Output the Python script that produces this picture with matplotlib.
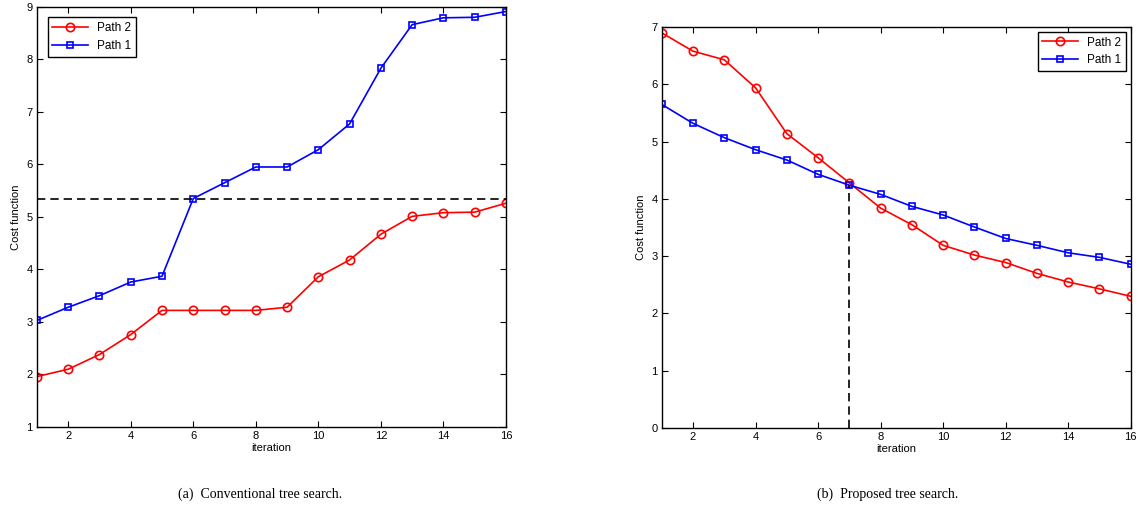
import numpy as np
import matplotlib
matplotlib.use("Agg")
import matplotlib.pyplot as plt

plt.rcParams['font.family'] = ['Liberation Sans', 'DejaVu Sans']

iterations = list(range(1, 17))

# (a) conventional tree search
conv_path2 = [1.96, 2.10, 2.38, 2.76, 3.22, 3.22, 3.22, 3.22, 3.28, 3.86, 4.18, 4.67, 5.01, 5.08, 5.09, 5.26]
conv_path1 = [3.03, 3.28, 3.50, 3.76, 3.87, 5.35, 5.65, 5.95, 5.95, 6.28, 6.77, 7.83, 8.66, 8.79, 8.80, 8.91]
conv_threshold = 5.35

# (b) proposed tree search
prop_path2 = [6.90, 6.58, 6.43, 5.94, 5.14, 4.72, 4.28, 3.84, 3.55, 3.19, 3.02, 2.89, 2.70, 2.55, 2.43, 2.30]
prop_path1 = [5.65, 5.32, 5.07, 4.86, 4.68, 4.43, 4.24, 4.08, 3.87, 3.72, 3.51, 3.31, 3.19, 3.06, 2.98, 2.86]
prop_cross_iter = 7
prop_cross_val = 4.24

xticks = [2, 4, 6, 8, 10, 12, 14, 16]


def style_axes(ax, ylim):
    ax.set_xlim(1, 16)
    ax.set_ylim(*ylim)
    ax.set_xticks(xticks)
    ax.tick_params(direction='in', top=True, right=True, labelsize=8, length=4, pad=3)
    for s in ax.spines.values():
        s.set_linewidth(1.0)
    ax.set_xlabel("iteration", fontsize=8, labelpad=1)
    ax.set_ylabel("Cost function", fontsize=8, labelpad=4)


fig = plt.figure(figsize=(11.41, 5.22), dpi=100)

ax1 = fig.add_axes([0.0324, 0.182, 0.411, 0.805])
ax1.plot(iterations, conv_path2, 'r-o', lw=1.2, ms=6, mfc='none', mew=1.2, label="Path 2")
ax1.plot(iterations, conv_path1, 'b-s', lw=1.2, ms=5, mfc='none', mew=1.2, label="Path 1")
ax1.axhline(conv_threshold, color='k', ls='--', lw=1.2, dashes=(5, 3))
style_axes(ax1, (1, 9))
ax1.legend(loc='upper left', fontsize=8.5, fancybox=False, edgecolor='k',
           borderaxespad=0.9, handlelength=3, framealpha=1)

ax2 = fig.add_axes([0.580, 0.180, 0.411, 0.768])
ax2.plot(iterations, prop_path2, 'r-o', lw=1.2, ms=6, mfc='none', mew=1.2, label="Path 2")
ax2.plot(iterations, prop_path1, 'b-s', lw=1.2, ms=5, mfc='none', mew=1.2, label="Path 1")
ax2.plot([prop_cross_iter, prop_cross_iter], [0, prop_cross_val], color='k', ls='--', lw=1.2, dashes=(5, 3))
style_axes(ax2, (0, 7))
ax2.legend(loc='upper right', fontsize=8.5, fancybox=False, edgecolor='k',
           borderaxespad=0.4, handlelength=3, framealpha=1)

fig.text(0.228, 0.047, "(a)  Conventional tree search.", ha='center', fontsize=10,
         family=['Liberation Serif', 'DejaVu Serif'])
fig.text(0.778, 0.047, "(b)  Proposed tree search.", ha='center', fontsize=10,
         family=['Liberation Serif', 'DejaVu Serif'])

fig.savefig("out.png", dpi=100)
